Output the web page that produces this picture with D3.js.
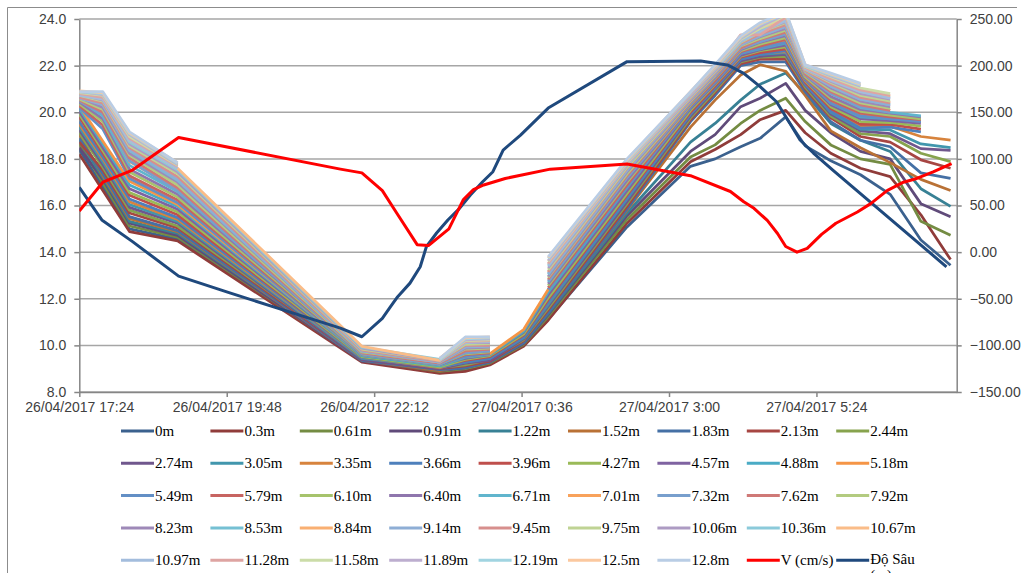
<!DOCTYPE html>
<html>
<head>
<meta charset="utf-8">
<script src="https://cdn.jsdelivr.net/npm/d3@7"></script>
<style>
  body { margin: 0; background: #fff; }
  svg { display: block; }
</style>
</head>
<body>
<script>

// x axis tick labels (every 2.4 h)
var xTickLabels = ["26/04/2017 17:24", "26/04/2017 19:48", "26/04/2017 22:12",
                   "27/04/2017 00:36", "27/04/2017 03:00", "27/04/2017 05:24"];
var leftTicks = [8, 10, 12, 14, 16, 18, 20, 22, 24];
var rightTicks = [-150, -100, -50, 0, 50, 100, 150, 200, 250];

// sampling times of the layer series
var stampTimes = ["26/04/2017 17:24", "26/04/2017 17:47", "26/04/2017 18:13", "26/04/2017 19:00",
  "26/04/2017 22:00", "26/04/2017 23:16", "26/04/2017 23:41", "27/04/2017 00:05",
  "27/04/2017 00:38", "27/04/2017 01:02", "27/04/2017 02:19", "27/04/2017 03:21",
  "27/04/2017 03:45", "27/04/2017 04:10", "27/04/2017 04:29", "27/04/2017 04:54",
  "27/04/2017 05:13", "27/04/2017 05:38", "27/04/2017 06:07", "27/04/2017 06:36",
  "27/04/2017 07:06", "27/04/2017 07:35"];

var layerNames = ["0m", "0.3m", "0.61m", "0.91m", "1.22m", "1.52m", "1.83m", "2.13m", "2.44m",
  "2.74m", "3.05m", "3.35m", "3.66m", "3.96m", "4.27m", "4.57m", "4.88m", "5.18m",
  "5.49m", "5.79m", "6.10m", "6.40m", "6.71m", "7.01m", "7.32m", "7.62m", "7.92m",
  "8.23m", "8.53m", "8.84m", "9.14m", "9.45m", "9.75m", "10.06m", "10.36m", "10.67m",
  "10.97m", "11.28m", "11.58m", "11.89m", "12.19m", "12.5m", "12.8m"];

// velocity per layer (cm/s), one row per layer, one column per stamp; null = no data
var layerValues = [
  [110, 70, 25, 14, -117, -129, -127, -120, -100, -72, 27, 92, 100, 113, 122, 145, 114, 98, 83, 62, 13, -14],
  [105, 66, 22, 12, -118, -130, -128, -121, -101, -73, 31, 97, 110, 126, 142, 152, 128, 106, 90, 81, 40, -8],
  [116, 74, 28, 16, -116, -128, -125, -119, -99, -69, 35, 102, 115, 138, 152, 165, 140, 115, 100, 94, 33, 18],
  [112, 78, 31, 18, -117, -127, -124, -118, -98, -67, 39, 108, 126, 156, 165, 181, 152, 128, 108, 100, 52, 38],
  [120, 80, 33, 20, -115, -126, -123, -117, -97, -66, 42, 118, 138, 163, 180, 192, 170, 138, 120, 108, 68, 49],
  [126, 82, 36, 22, -116, -127, -122, -116, -96, -64, 45, 134, 163, 190, 201, 194, 168, 130, 112, 96, 78, 66],
  [122, 84, 38, 23, -116, -126, -124, -118, -97, -65, 46, 140, 168, 200, 204, 204, 172, 140, 120, 113, 85, 79],
  [118, 88, 42, 26, -115, -125, -122, -117, -95, -62, 49, 142, 171, 202, 207, 207, 175, 144, 124, 118, 99, 90],
  [128, 91, 45, 28, -114, -124, -121, -115, -94, -60, 52, 144, 173, 204, 209, 210, 177, 146, 127, 124, 106, 97],
  [131, 94, 48, 31, -115, -125, -119, -116, -93, -58, 54, 146, 175, 205, 210, 212, 179, 148, 130, 127, 111, 109],
  [134, 97, 51, 33, -114, -123, -118, -114, -92, -56, 57, 148, 177, 207, 212, 214, 181, 150, 132, 131, 116, 112],
  [137, 100, 54, 35, -113, -124, -117, -113, -90, -54, 60, 150, 178, 208, 213, 215, 182, 152, 135, 135, 124, 120],
  [140, 102, 57, 37, -113, -123, -118, -114, -91, -54, 58, 148, 176, 207, 212, 216, 180, 151, 133, 134, 129, null],
  [145, 106, 61, 40, -112, -122, -116, -112, -89, -51, 61, 150, 178, 209, 214, 218, 182, 154, 137, 137, 132, null],
  [148, 109, 64, 43, -112, -123, -115, -111, -88, -49, 63, 152, 180, 210, 216, 220, 184, 156, 140, 139, 135, null],
  [151, 112, 68, 46, -111, -121, -114, -110, -86, -46, 66, 154, 181, 211, 217, 222, 185, 158, 143, 141, 138, null],
  [154, 116, 72, 49, -111, -122, -113, -110, -85, -43, 69, 156, 183, 213, 218, 224, 187, 160, 145, 143, 141, null],
  [157, 119, 76, 51, -110, -121, -112, -109, -83, -40, 72, 158, 184, 214, 220, 226, 188, 162, 148, 145, 144, null],
  [155, 132, 79, 53, -110, -121, -112, -109, null, -40, 70, 155, 182, 213, 219, 225, 186, 160, 146, 143, 140, null],
  [157, 136, 82, 56, -109, -120, -110, -108, null, -38, 72, 157, 184, 215, 221, 228, 187, 163, 149, 145, 142, null],
  [159, 140, 86, 59, -109, -120, -109, -107, null, -36, 75, 158, 186, 216, 223, 230, 188, 165, 151, 147, 143, null],
  [161, 143, 89, 62, -108, -119, -108, -106, null, -34, 77, 159, 187, 217, 225, 232, 190, 167, 153, 149, 145, null],
  [163, 146, 93, 65, -108, -120, -107, -105, null, -32, 80, 160, 189, 219, 226, 234, 191, 170, 155, 150, 146, null],
  [165, 150, 97, 68, -107, -119, -106, -104, null, -30, 82, 162, 190, 220, 228, 236, 192, 172, 158, 152, null, null],
  [162, 148, 98, 66, -109, -120, -108, -106, null, -31, 80, 160, 188, 218, 226, 234, 190, 170, 156, 150, null, null],
  [163, 150, 101, 69, -108, -119, -106, -104, null, -29, 82, 161, 189, 219, 228, 236, 191, 172, 158, 152, null, null],
  [164, 153, 104, 72, -107, -118, -104, -103, null, -27, 84, 162, 190, 221, 229, 238, 193, 174, 160, 154, null, null],
  [166, 155, 106, 75, -106, -118, -103, -102, null, -26, 86, 163, 191, 222, 231, 240, 194, 176, 162, 156, null, null],
  [167, 158, 109, 77, -106, -117, -101, -100, null, -24, 88, 165, 193, 223, 232, 242, 195, 178, 164, 158, null, null],
  [168, 160, 112, 80, -105, -118, -100, -99, null, -22, 90, 166, 194, 224, 234, 244, 196, 180, 166, 160, null, null],
  [165, 158, 110, 78, -106, -118, -102, -101, null, -23, 88, 164, 192, 222, 232, 242, 194, 178, 164, 158, null, null],
  [166, 160, 112, 81, -105, -117, -100, -100, null, -21, 90, 165, 193, 224, 234, 244, 195, 180, 166, 160, null, null],
  [168, 162, 114, 84, -104, -116, -99, -98, null, -19, 91, 166, 194, 225, 236, 246, 196, 182, 168, 162, null, null],
  [169, 163, 116, 86, -103, -116, -97, -97, null, -17, 93, 167, 195, 226, 237, 247, 197, 183, 170, 164, null, null],
  [170, 165, 118, 88, -102, -115, -96, -96, null, -15, 94, 169, 197, 227, 239, 249, 198, 185, 172, 166, null, null],
  [171, 166, 120, 90, -101, -116, -95, -95, null, -13, 96, 170, 198, 228, 240, 250, 199, 186, 174, 167, null, null],
  [168, 164, 120, 90, null, -116, -97, -96, null, -14, 94, 168, 196, 226, 236, 248, 197, 184, 172, 165, null, null],
  [170, 166, 122, 92, null, -115, -96, -95, null, -12, 95, 169, 197, 233, 233, 252, 198, 186, 174, 168, null, null],
  [171, 168, 124, 93, null, -115, -95, -94, null, -10, 96, 170, 198, 228, 240, 254, 199, 188, 176, 170, null, null],
  [172, 169, 126, 94, null, -114, -94, -93, null, -9, 97, 170, 199, 229, 242, 255, 200, 189, 178, null, null, null],
  [172, 170, 127, 95, null, -115, -93, -92, null, -7, 98, 171, 200, 230, 244, 256, 200, 190, 179, null, null, null],
  [173, 171, 128, 96, null, -114, -92, -91, null, -6, 99, 172, 200, 231, 245, 257, 201, 191, 180, null, null, null],
  [172, 172, 129, 96, null, -114, -91, -91, null, -5, 100, 172, 201, 232, 246, 258, 201, 192, 181, null, null, null]
];

// mean velocity V (cm/s)
var vTimes = ["26/04/2017 17:24", "26/04/2017 17:47", "26/04/2017 18:16", "26/04/2017 19:01",
  "26/04/2017 21:39", "26/04/2017 22:00", "26/04/2017 22:20", "26/04/2017 22:34",
  "26/04/2017 22:54", "26/04/2017 23:05", "26/04/2017 23:25", "26/04/2017 23:39",
  "26/04/2017 23:49", "26/04/2017 23:59", "27/04/2017 00:20", "27/04/2017 01:04",
  "27/04/2017 02:19", "27/04/2017 03:21", "27/04/2017 04:00", "27/04/2017 04:13",
  "27/04/2017 04:23", "27/04/2017 04:36", "27/04/2017 04:46", "27/04/2017 04:54",
  "27/04/2017 05:05", "27/04/2017 05:15", "27/04/2017 05:29", "27/04/2017 05:43",
  "27/04/2017 06:04", "27/04/2017 06:17", "27/04/2017 06:33", "27/04/2017 06:49",
  "27/04/2017 07:02", "27/04/2017 07:18", "27/04/2017 07:36"];
var vValues = [44, 75, 88, 123, 89, 85, 66, 42, 8, 7, 25, 56, 67, 72, 79, 89, 94.5, 82, 65, 54,
  47, 34, 20, 6, 0, 4, 19, 31, 43, 52, 66, 75, 79, 86, 95];

// water depth (m), left axis
var depthTimes = ["26/04/2017 17:24", "26/04/2017 17:46", "26/04/2017 18:16", "26/04/2017 19:01",
  "26/04/2017 19:51", "26/04/2017 20:43", "26/04/2017 21:39", "26/04/2017 22:00",
  "26/04/2017 22:20", "26/04/2017 22:28", "26/04/2017 22:35", "26/04/2017 22:47",
  "26/04/2017 22:57", "26/04/2017 23:03", "26/04/2017 23:13", "26/04/2017 23:24",
  "26/04/2017 23:34", "26/04/2017 23:46", "26/04/2017 23:58", "27/04/2017 00:08",
  "27/04/2017 00:18", "27/04/2017 00:35", "27/04/2017 01:02", "27/04/2017 02:19",
  "27/04/2017 03:31", "27/04/2017 03:57", "27/04/2017 04:13", "27/04/2017 04:29",
  "27/04/2017 04:45", "27/04/2017 04:58", "27/04/2017 05:08", "27/04/2017 05:21",
  "27/04/2017 05:40", "27/04/2017 07:31"];
var depthValues = [16.78, 15.38, 14.45, 12.97, 12.25, 11.52, 10.74, 10.37, 11.16, 11.66, 12.09,
  12.67, 13.37, 14.23, 14.82, 15.38, 15.81, 16.45, 17.02, 17.45, 18.38, 19.02, 20.18, 22.17,
  22.2, 22.03, 21.67, 21.1, 20.45, 19.53, 18.81, 18.25, 17.52, 13.37];

var W = 1021, H = 573;
var pLeft = 79.3, pRight = 956.7, pTop = 19, pBottom = 392;
var parseTime = d3.timeParse("%d/%m/%Y %H:%M");
var fmtTime = d3.timeFormat("%d/%m/%Y %-H:%M");

var accents = ["#4F81BD", "#C0504D", "#9BBB59", "#8064A2", "#4BACC6", "#F79646"];
function layerColor(i) {
  var base = accents[i % 6], g = Math.floor(i / 6);
  var f = -0.25 + g * 0.85 / 7;
  return f < 0 ? d3.interpolateRgb(base, "#000")(-f) : d3.interpolateRgb(base, "#fff")(f);
}

var svg = d3.select("body").append("svg").attr("width", W).attr("height", H);

// chart border
svg.append("path").attr("d", "M7.5," + H + "V7.5H1017")
  .attr("fill", "none").attr("stroke", "#8c8c8c").attr("stroke-width", 1);

var x = d3.scaleTime()
  .domain([parseTime("26/04/2017 17:24"), parseTime("27/04/2017 07:41")])
  .range([pLeft, pRight]);
var yL = d3.scaleLinear().domain([8, 24]).range([pBottom, pTop]);
var yR = d3.scaleLinear().domain([-150, 250]).range([pBottom, pTop]);

// gridlines
svg.append("g").selectAll("line").data(leftTicks).enter().append("line")
  .attr("x1", pLeft).attr("x2", pRight)
  .attr("y1", function (d) { return yL(d); }).attr("y2", function (d) { return yL(d); })
  .attr("stroke", "#a6a6a6").attr("stroke-width", 1.5);

var axisFont = "'Liberation Sans', Arial, sans-serif";

var gL = svg.append("g").attr("transform", "translate(" + pLeft + ",0)")
  .call(d3.axisLeft(yL).tickValues(leftTicks).tickFormat(d3.format(".1f")).tickSizeInner(5).tickSizeOuter(0).tickPadding(8));
var gR = svg.append("g").attr("transform", "translate(" + pRight + ",0)")
  .call(d3.axisRight(yR).tickValues(rightTicks).tickFormat(d3.format(".2f")).tickSizeInner(5).tickSizeOuter(0).tickPadding(8));
var gX = svg.append("g").attr("transform", "translate(0," + pBottom + ")")
  .call(d3.axisBottom(x).tickValues(xTickLabels.map(parseTime)).tickFormat(fmtTime).tickSizeInner(5).tickSizeOuter(0).tickPadding(5));

[gL, gR, gX].forEach(function (g) {
  g.select(".domain").attr("stroke", "#868686").attr("stroke-width", 1.5);
  g.selectAll(".tick line").attr("stroke", "#868686").attr("stroke-width", 1.5);
  g.selectAll("text").attr("fill", "#404040").style("font-family", axisFont).style("font-size", "14px");
});

// plot clip
svg.append("clipPath").attr("id", "plot")
  .append("rect").attr("x", pLeft).attr("y", pTop - 1).attr("width", pRight - pLeft).attr("height", pBottom - pTop + 1);

var plot = svg.append("g").attr("clip-path", "url(#plot)");

var stamps = stampTimes.map(parseTime);
var layers = layerNames.map(function (name, i) {
  return {
    name: name, color: layerColor(i),
    values: layerValues[i].map(function (v, j) { return { t: stamps[j], v: v }; })
  };
});

var lineR = d3.line()
  .defined(function (d) { return d.v != null; })
  .x(function (d) { return x(d.t); })
  .y(function (d) { return yR(d.v); });
var lineL = d3.line()
  .x(function (d) { return x(d.t); })
  .y(function (d) { return yL(d.v); });

plot.selectAll(".layer").data(layers).enter().append("path")
  .attr("class", "layer")
  .attr("d", function (d) { return lineR(d.values); })
  .attr("fill", "none")
  .attr("stroke", function (d) { return d.color; })
  .attr("stroke-width", 2.75)
  .attr("stroke-linejoin", "round");

var depthData = depthTimes.map(function (t, i) { return { t: parseTime(t), v: depthValues[i] }; });
var vData = vTimes.map(function (t, i) { return { t: parseTime(t), v: vValues[i] }; });

plot.append("path").attr("d", lineL(depthData))
  .attr("fill", "none").attr("stroke", "#1F497D").attr("stroke-width", 3).attr("stroke-linejoin", "round");
plot.append("path").attr("d", lineR(vData))
  .attr("fill", "none").attr("stroke", "#FF0000").attr("stroke-width", 3).attr("stroke-linejoin", "round");

// legend
var legendItems = layers.map(function (d) { return { name: d.name, color: d.color }; });
legendItems.push({ name: "V (cm/s)", color: "#FF0000" });
legendItems.push({ name: "Độ Sâu (m)", color: "#1F497D" });

var legend = svg.append("g").style("font-family", "'Liberation Serif', 'Times New Roman', serif")
  .style("font-size", "15px");
legendItems.forEach(function (d, k) {
  var lx = 121 + (k % 9) * 89.4, ly = 431 + Math.floor(k / 9) * 32.3;
  legend.append("line").attr("x1", lx).attr("x2", lx + 33).attr("y1", ly).attr("y2", ly)
    .attr("stroke", d.color).attr("stroke-width", 3);
  if (d.name === "Độ Sâu (m)") {
    var t = legend.append("text").attr("x", lx + 34).attr("y", ly + 4).attr("fill", "#000");
    t.append("tspan").attr("x", lx + 34).text("Độ Sâu");
    t.append("tspan").attr("x", lx + 34).attr("dy", 16).text("(m)");
  } else {
    legend.append("text").attr("x", lx + 34).attr("y", ly + 5).attr("fill", "#000").text(d.name);
  }
});

</script>
</body>
</html>
